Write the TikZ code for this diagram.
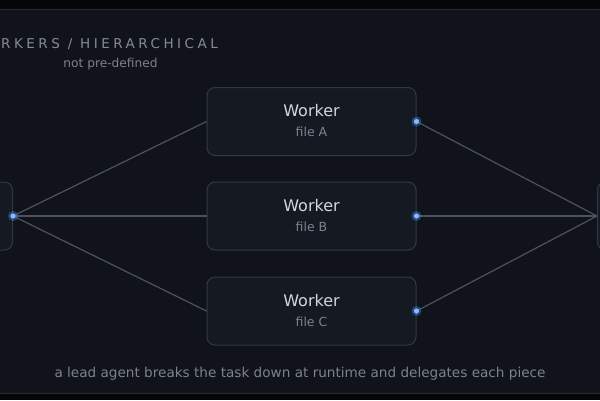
\documentclass[tikz,border=0pt]{standalone}
\usepackage{fontspec}
\setmainfont{DejaVu Sans}
\newfontfamily\spacedfont[LetterSpace=26]{DejaVu Sans}
\definecolor{bgout}{HTML}{050608}
\definecolor{bgpanel}{HTML}{10131A}
\definecolor{panelline}{HTML}{262A32}
\definecolor{boxfill}{HTML}{141922}
\definecolor{boxline}{HTML}{313847}
\definecolor{txtmain}{HTML}{D2D6DE}
\definecolor{txtsub}{HTML}{7C828E}
\definecolor{txttitle}{HTML}{858B96}
\definecolor{wire}{HTML}{4C5260}
\definecolor{dotblue}{HTML}{3D8BF2}
\begin{document}
\begin{tikzpicture}[x=1pt,y=-1pt,
  box/.style={draw=boxline, line width=1pt, fill=boxfill, rounded corners=8pt},
  worker/.style={box, minimum width=209pt, minimum height=68pt, inner sep=0pt},
  wireline/.style={draw=wire, line width=1.2pt},
  glow/.style={fill=dotblue, opacity=0.4},
  dotc/.style={fill=dotblue!60!white}
]
\useasboundingbox (0,0) rectangle (600,400);
\clip (0,0) rectangle (600,400);
\fill[bgout] (0,0) rectangle (600,400);
\filldraw[fill=bgpanel, draw=panelline, line width=1pt] (-5,9) rectangle (605,393);

% title
\node[anchor=west, text=txttitle, font=\spacedfont\fontsize{13.5}{15}\selectfont, inner sep=0pt] (title) at (1,44) {RKERS / HIERARCHICAL};
\node[text=txtsub, font=\fontsize{12.2}{14}\selectfont, inner sep=0pt] (sub) at (110.5,64) {not pre-defined};

% side nodes
\node[box, minimum width=60pt, minimum height=68pt, anchor=east] (lead) at (13,216) {};
\node[box, minimum width=60pt, minimum height=68pt, anchor=west] (merge) at (597,216) {};

% workers
\node[worker] (wa) at (311.5,121.5) {};
\node[worker] (wb) at (311.5,216) {};
\node[worker] (wc) at (311.5,311) {};
\foreach \n/\l in {wa/A, wb/B, wc/C}{
  \node[text=txtmain, font=\fontsize{16}{18}\selectfont, inner sep=0pt] (\n t) at ([yshift=10.5pt]\n.center) {Worker};
  \node[text=txtsub, font=\fontsize{12.5}{14}\selectfont, inner sep=0pt] (\n s) at ([yshift=-10.5pt]\n.center) {file \l};
}

% connectors
\foreach \n in {wa,wb,wc}{
  \draw[wireline] (lead.east) -- (\n.west);
  \draw[wireline] (\n.east) -- (merge.west);
}

% dots
\foreach \p in {lead.east, wa.east, wb.east, wc.east}{
  \fill[glow] (\p) circle (5pt);
  \fill[dotc] (\p) circle (2.6pt);
}

% caption
\node[text=txtsub, font=\fontsize{13.6}{15}\selectfont, inner sep=0pt] (cap) at (300,374) {a lead agent breaks the task down at runtime and delegates each piece};
\end{tikzpicture}
\end{document}
